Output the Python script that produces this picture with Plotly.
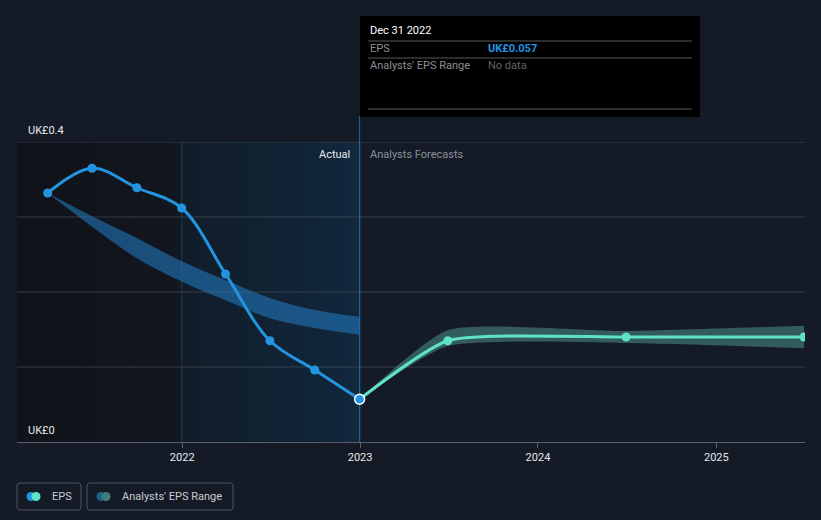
import plotly.graph_objects as go

# ---------------- data ----------------
actual_dates = ["2021-03-31", "2021-06-30", "2021-09-30", "2021-12-31",
                "2022-03-31", "2022-06-30", "2022-09-30", "2022-12-31"]
actual_eps = [0.332, 0.365, 0.339, 0.312, 0.224, 0.135, 0.096, 0.057]
past_range_high = [0.332, 0.301, 0.272, 0.241, 0.216, 0.192, 0.176, 0.167]
past_range_low = [0.332, 0.287, 0.245, 0.214, 0.189, 0.165, 0.152, 0.143]

fc_dates = ["2022-12-31", "2023-06-30", "2024-06-30", "2025-06-30"]
fc_eps = [0.057, 0.135, 0.140, 0.140]
fc_high = [0.057, 0.149, 0.148, 0.155]
fc_low = [0.057, 0.128, 0.132, 0.125]

y_tick_labels = ["UK£0", "UK£0.4"]
x_tick_vals = ["2022-01-01", "2023-01-01", "2024-01-01", "2025-01-01"]
x_tick_text = ["2022", "2023", "2024", "2025"]

# ---------------- layout helpers (pixel -> paper) ----------------
L, R, T, B = 17, 805, 142, 442
W, H = 821, 520


def px(x):
    return (x - L) / (R - L)


def py(y):
    return (B - y) / (B - T)


BG = "#151b26"
FONT = "Roboto"
FC_SMOOTH = 0.55

fig = go.Figure()

# past analyst range band
fig.add_trace(go.Scatter(x=actual_dates, y=past_range_high, mode="lines",
                         line=dict(width=0, shape="spline", color="rgba(0,0,0,0)"),
                         hoverinfo="skip", showlegend=False))
fig.add_trace(go.Scatter(x=actual_dates, y=past_range_low, mode="lines",
                         line=dict(width=0, shape="spline", color="rgba(0,0,0,0)"),
                         fill="tonexty", fillcolor="rgba(33,118,186,0.6)",
                         hoverinfo="skip", showlegend=False))

# forecast range band
fig.add_trace(go.Scatter(x=fc_dates, y=fc_high, mode="lines",
                         line=dict(width=0, shape="spline", smoothing=FC_SMOOTH,
                                   color="rgba(0,0,0,0)"),
                         hoverinfo="skip", showlegend=False))
fig.add_trace(go.Scatter(x=fc_dates, y=fc_low, mode="lines",
                         line=dict(width=0, shape="spline", smoothing=FC_SMOOTH,
                                   color="rgba(0,0,0,0)"),
                         fill="tonexty", fillcolor="rgba(90,170,160,0.45)",
                         hoverinfo="skip", showlegend=False))

# forecast EPS line
fig.add_trace(go.Scatter(x=fc_dates, y=fc_eps, mode="lines+markers",
                         line=dict(width=3, shape="spline", smoothing=FC_SMOOTH,
                                   color="#5ee3c9"),
                         marker=dict(size=9, color="#5ee3c9"),
                         showlegend=False))

# actual EPS line
fig.add_trace(go.Scatter(x=actual_dates, y=actual_eps, mode="lines+markers",
                         line=dict(width=3, shape="spline", color="#2394e0"),
                         marker=dict(size=9, color="#2394e0"),
                         showlegend=False))
# highlighted last actual point
fig.add_trace(go.Scatter(x=actual_dates[-1:], y=actual_eps[-1:], mode="markers",
                         marker=dict(size=10, color="#2394e0",
                                     line=dict(color="#ffffff", width=1.5)),
                         showlegend=False))

shapes = []

# darker region left of 2022
n = 16
for i in range(n):
    x0 = L + (182 - L) * i / n
    x1 = L + (182 - L) * (i + 1) / n + 0.5
    t = i / (n - 1)
    c = (int(16 + 3 * t), int(19 + 4 * t), int(25 + 6 * t))
    shapes.append(dict(type="rect", xref="paper", yref="paper",
                       x0=px(x0), x1=px(x1), y0=0, y1=1, layer="below",
                       line=dict(width=0), fillcolor="rgb(%d,%d,%d)" % c))
# blue gradient region between 2022 and 2023
n = 30
for i in range(n):
    x0 = 182 + (361 - 182) * i / n
    x1 = 182 + (361 - 182) * (i + 1) / n + 0.5
    t = i / (n - 1)
    c = (int(17 + 1 * t), int(29 + 11 * t), int(41 + 21 * t))
    shapes.append(dict(type="rect", xref="paper", yref="paper",
                       x0=px(x0), x1=px(x1), y0=0, y1=1, layer="below",
                       line=dict(width=0), fillcolor="rgb(%d,%d,%d)" % c))

# grid lines
for v in [0.1, 0.2, 0.3, 0.4]:
    shapes.append(dict(type="line", xref="paper", yref="y", x0=0, x1=1, y0=v, y1=v,
                       layer="below", line=dict(color="rgba(80,86,98,0.6)", width=1)))
# vertical line at 2022
shapes.append(dict(type="line", xref="x", yref="paper", x0="2021-12-31", x1="2021-12-31",
                   y0=0, y1=1, layer="below",
                   line=dict(color="rgba(40,90,130,0.55)", width=1)))
# hover line at Dec 31 2022
shapes.append(dict(type="line", xref="x", yref="paper", x0="2022-12-31", x1="2022-12-31",
                   y0=0, y1=py(116), layer="below",
                   line=dict(color="rgba(35,110,170,0.9)", width=1)))

# tooltip box
shapes.append(dict(type="rect", xref="paper", yref="paper",
                   x0=px(360), x1=px(700), y0=py(117), y1=py(16),
                   fillcolor="#000000", line=dict(width=0)))
for yy in [41, 58, 109]:
    shapes.append(dict(type="line", xref="paper", yref="paper",
                       x0=px(368), x1=px(692), y0=py(yy), y1=py(yy),
                       line=dict(color="rgba(110,110,110,0.8)", width=1)))


def rounded_box(x0, y0, x1, y1, r=3):
    X0, X1 = px(x0), px(x1)
    Y0, Y1 = py(y0), py(y1)
    rx = r / (R - L)
    ry = r / (B - T)
    path = (f"M {X0+rx},{Y0} L {X1-rx},{Y0} Q {X1},{Y0} {X1},{Y0-ry} "
            f"L {X1},{Y1+ry} Q {X1},{Y1} {X1-rx},{Y1} L {X0+rx},{Y1} "
            f"Q {X0},{Y1} {X0},{Y1+ry} L {X0},{Y0-ry} Q {X0},{Y0} {X0+rx},{Y0} Z")
    return dict(type="path", xref="paper", yref="paper", path=path,
                line=dict(color="rgba(85,90,100,0.9)", width=1), fillcolor="rgba(0,0,0,0)")


def circle(cx, cy, r, color):
    return dict(type="circle", xref="paper", yref="paper",
                x0=px(cx - r), x1=px(cx + r), y0=py(cy + r), y1=py(cy - r),
                fillcolor=color, line=dict(width=0))


shapes.append(rounded_box(17, 483, 81, 510))
shapes.append(rounded_box(87, 483, 233, 510))
shapes.append(circle(31, 496.5, 4.5, "#2394e0"))
shapes.append(circle(36, 496.5, 4.5, "#5ee3c9"))
shapes.append(circle(101, 496.5, 4.5, "#1f5f8f"))
shapes.append(circle(106, 496.5, 4.5, "#3e8079"))

annotations = []


def text(x, y, s, color, size=11, anchor="left", bold=False):
    if bold:
        s = "<b>" + s + "</b>"
    annotations.append(dict(xref="paper", yref="paper", x=px(x), y=py(y), text=s,
                            showarrow=False, xanchor=anchor, yanchor="middle",
                            font=dict(family=FONT, size=size, color=color)))


text(26, 130, y_tick_labels[1], "#e6e8ea")
text(26, 430, y_tick_labels[0], "#e6e8ea")
text(352, 154, "Actual", "#e6e8ea", anchor="right")
text(368, 154, "Analysts Forecasts", "#8a9099")
text(368, 31, "Dec 31 2022", "#ffffff")
text(368, 49, "EPS", "#8a8f96")
text(486, 49, "UK£0.057", "#2394e0", bold=True)
text(368, 66, "Analysts' EPS Range", "#8a8f96")
text(486, 66, "No data", "#5f6369")
text(50, 496.5, "EPS", "#c9ccd1")
text(120, 496.5, "Analysts' EPS Range", "#c9ccd1")

fig.update_layout(
    width=W, height=H,
    margin=dict(l=L, r=W - R, t=T, b=H - B, pad=0),
    paper_bgcolor=BG, plot_bgcolor=BG,
    shapes=shapes, annotations=annotations,
    showlegend=False, hovermode=False,
    font=dict(family=FONT, size=11, color="#e6e8ea"),
    xaxis=dict(type="date", range=["2021-01-27", "2025-07-02"],
               tickvals=x_tick_vals, ticktext=x_tick_text,
               showgrid=False, zeroline=False,
               showline=True, linecolor="rgba(90,96,108,1)", linewidth=1,
               ticks="outside", ticklen=5, tickcolor="rgba(90,96,108,1)",
               tickfont=dict(family=FONT, size=11, color="#e6e8ea")),
    yaxis=dict(range=[0, 0.4], showgrid=False, zeroline=False,
               showticklabels=False, showline=False),
)

fig.write_html("out.html")
